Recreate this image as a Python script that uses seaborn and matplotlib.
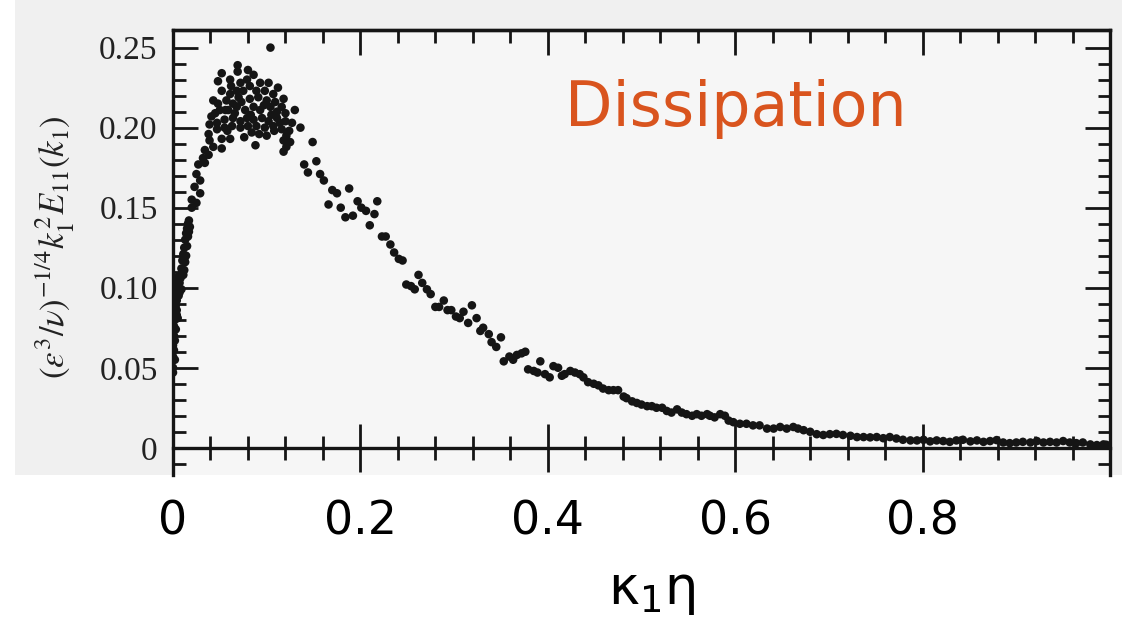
import numpy as np
import pandas as pd
import matplotlib
matplotlib.use("Agg")
import matplotlib.pyplot as plt
import seaborn as sns
from matplotlib.ticker import FixedLocator
from matplotlib.patches import Rectangle

# ---------------- data ----------------
rise_x = [0.000, 0.000, 0.000, 0.000, 0.001, 0.002, 0.001, 0.003, 0.004, 0.003,
          0.005, 0.007, 0.006, 0.009, 0.010, 0.011, 0.012, 0.013, 0.014, 0.015,
          0.016, 0.017, 0.001, 0.002, 0.003, 0.005, 0.004, 0.006, 0.009, 0.011,
          0.013, 0.012, 0.015, 0.014, 0.000, 0.000, 0.001, 0.003, 0.000, 0.002,
          0.001, 0.004, 0.007, 0.008, 0.010, 0.012, 0.016, 0.018, 0.017]
rise_y = [0.050, 0.057, 0.064, 0.072, 0.076, 0.080, 0.085, 0.089, 0.092, 0.097,
          0.101, 0.103, 0.107, 0.112, 0.117, 0.121, 0.125, 0.130, 0.134, 0.137,
          0.140, 0.142, 0.061, 0.067, 0.074, 0.081, 0.086, 0.095, 0.099, 0.108,
          0.116, 0.111, 0.126, 0.120, 0.069, 0.081, 0.092, 0.105, 0.047, 0.055,
          0.070, 0.083, 0.097, 0.106, 0.110, 0.118, 0.132, 0.138, 0.135]

peak_x = [0.020, 0.025, 0.020, 0.029, 0.023, 0.029, 0.025, 0.034, 0.027, 0.038,
          0.032, 0.034, 0.043, 0.052, 0.039, 0.052, 0.061, 0.038, 0.047, 0.055,
          0.063, 0.072, 0.080, 0.089, 0.098, 0.107, 0.116, 0.121, 0.039, 0.047,
          0.055, 0.064, 0.072, 0.079, 0.086, 0.095, 0.102, 0.111, 0.120, 0.127,
          0.136, 0.041, 0.050, 0.059, 0.068, 0.077, 0.086, 0.093, 0.104, 0.111,
          0.120, 0.130, 0.048, 0.057, 0.064, 0.073, 0.082, 0.091, 0.100, 0.109,
          0.116, 0.043, 0.052, 0.061, 0.068, 0.075, 0.082, 0.089, 0.098, 0.107,
          0.118, 0.048, 0.061, 0.072, 0.079, 0.093, 0.102, 0.112, 0.052, 0.069,
          0.069, 0.080, 0.086, 0.088, 0.100, 0.118, 0.121, 0.118, 0.104, 0.045,
          0.058, 0.066, 0.083, 0.097, 0.108, 0.114, 0.070, 0.092, 0.076, 0.105,
          0.124, 0.125, 0.084, 0.062, 0.056]
peak_y = [0.150, 0.153, 0.155, 0.159, 0.163, 0.167, 0.171, 0.178, 0.177, 0.183,
          0.181, 0.186, 0.188, 0.187, 0.192, 0.193, 0.193, 0.196, 0.199, 0.200,
          0.201, 0.200, 0.201, 0.201, 0.200, 0.201, 0.199, 0.195, 0.202, 0.203,
          0.205, 0.206, 0.204, 0.206, 0.205, 0.206, 0.204, 0.206, 0.204, 0.203,
          0.200, 0.207, 0.211, 0.211, 0.213, 0.211, 0.213, 0.211, 0.213, 0.210,
          0.209, 0.211, 0.215, 0.217, 0.215, 0.216, 0.218, 0.219, 0.217, 0.216,
          0.213, 0.217, 0.223, 0.221, 0.223, 0.223, 0.226, 0.223, 0.223, 0.221,
          0.218, 0.229, 0.230, 0.228, 0.230, 0.228, 0.228, 0.225, 0.234, 0.239,
          0.235, 0.236, 0.233, 0.189, 0.195, 0.192, 0.188, 0.185, 0.250, 0.209,
          0.198, 0.209, 0.208, 0.214, 0.198, 0.203, 0.219, 0.196, 0.194, 0.208,
          0.198, 0.191, 0.197, 0.226, 0.211]

fall_x = [0.149, 0.140, 0.153, 0.144, 0.157, 0.161, 0.170, 0.175, 0.188, 0.166,
          0.179, 0.197, 0.201, 0.206, 0.218, 0.215, 0.192, 0.184, 0.210, 0.223,
          0.227, 0.232, 0.236, 0.241, 0.245, 0.262, 0.266, 0.249, 0.254, 0.258,
          0.271, 0.275, 0.289, 0.280, 0.284, 0.293, 0.297, 0.310, 0.319, 0.302,
          0.306, 0.315, 0.324, 0.328, 0.331, 0.337, 0.340, 0.345, 0.350, 0.353,
          0.359, 0.363, 0.367, 0.372, 0.376, 0.392, 0.379, 0.385, 0.389, 0.397,
          0.402, 0.406, 0.411, 0.415, 0.418, 0.424, 0.429, 0.434, 0.438, 0.443,
          0.449, 0.454, 0.459, 0.465, 0.470, 0.475, 0.481, 0.484, 0.490, 0.495,
          0.500, 0.506, 0.511, 0.516, 0.522, 0.527, 0.532, 0.538, 0.543, 0.548,
          0.554, 0.559, 0.564, 0.570]
fall_y = [0.191, 0.177, 0.179, 0.172, 0.171, 0.167, 0.161, 0.159, 0.162, 0.152,
          0.150, 0.154, 0.150, 0.148, 0.154, 0.146, 0.145, 0.144, 0.139, 0.132,
          0.132, 0.127, 0.122, 0.118, 0.117, 0.108, 0.103, 0.102, 0.101, 0.099,
          0.099, 0.096, 0.092, 0.088, 0.088, 0.086, 0.086, 0.085, 0.089, 0.082,
          0.081, 0.078, 0.081, 0.073, 0.075, 0.071, 0.066, 0.063, 0.069, 0.054,
          0.057, 0.055, 0.058, 0.059, 0.060, 0.054, 0.049, 0.048, 0.047, 0.046,
          0.044, 0.051, 0.050, 0.045, 0.046, 0.048, 0.047, 0.046, 0.044, 0.041,
          0.040, 0.039, 0.037, 0.036, 0.036, 0.036, 0.032, 0.031, 0.029, 0.028,
          0.027, 0.026, 0.026, 0.025, 0.025, 0.023, 0.022, 0.024, 0.022, 0.021,
          0.020, 0.021, 0.020, 0.021]

tail_x = [0.573, 0.578, 0.584, 0.589, 0.593, 0.598, 0.605, 0.612, 0.619, 0.626,
          0.634, 0.641, 0.648, 0.655, 0.662, 0.667, 0.673, 0.680, 0.687, 0.694,
          0.701, 0.708, 0.715, 0.723, 0.730, 0.737, 0.744, 0.751, 0.758, 0.765,
          0.772, 0.779, 0.787, 0.794, 0.801, 0.808, 0.815, 0.822, 0.829, 0.836,
          0.843, 0.851, 0.858, 0.865, 0.872, 0.879, 0.886, 0.893, 0.900, 0.907,
          0.915, 0.922, 0.929, 0.936, 0.943, 0.950, 0.957, 0.964, 0.971, 0.979,
          0.986, 0.993, 0.996]
tail_y = [0.0200, 0.0190, 0.0210, 0.0200, 0.0170, 0.0160, 0.0150, 0.0150, 0.0140, 0.0140,
          0.0120, 0.0120, 0.0130, 0.0120, 0.0130, 0.0120, 0.0110, 0.0100, 0.0085, 0.0080,
          0.0085, 0.0087, 0.0080, 0.0075, 0.0067, 0.0067, 0.0065, 0.0067, 0.0060, 0.0067,
          0.0058, 0.0050, 0.0046, 0.0046, 0.0050, 0.0040, 0.0046, 0.0042, 0.0037, 0.0046,
          0.0050, 0.0040, 0.0046, 0.0037, 0.0042, 0.0048, 0.0033, 0.0029, 0.0033, 0.0037,
          0.0033, 0.0042, 0.0033, 0.0037, 0.0033, 0.0042, 0.0033, 0.0029, 0.0033, 0.0021,
          0.0017, 0.0021, 0.0019]

y_ticks = [0.0, 0.05, 0.10, 0.15, 0.20, 0.25]
y_tick_labels = ["0", "0.05", "0.10", "0.15", "0.20", "0.25"]
x_ticks = [0.0, 0.2, 0.4, 0.6, 0.8]
x_tick_labels = ["0", "0.2", "0.4", "0.6", "0.8"]
x_minor = [0.04, 0.08, 0.12, 0.16, 0.24, 0.28, 0.32, 0.36, 0.44, 0.48, 0.52, 0.56,
           0.64, 0.68, 0.72, 0.76, 0.84, 0.88, 0.92, 0.96]

df = pd.DataFrame({
    "k": np.concatenate([rise_x, peak_x, fall_x, tail_x]),
    "E": np.concatenate([rise_y, peak_y, fall_y, tail_y]),
})

# ---------------- style ----------------
sns.set_style("ticks")
plt.rcParams["font.family"] = ["DejaVu Sans"]
plt.rcParams["mathtext.fontset"] = "stix"

W, H = 1122, 621
fig = plt.figure(figsize=(W / 100, H / 100), dpi=100)
fig.patch.set_facecolor("white")

# scanned-paper background
fig.add_artist(Rectangle((15 / W, 1 - 475 / H), 1 - 15 / W, 475 / H,
                         transform=fig.transFigure, facecolor="#f0f0f0",
                         edgecolor="none", zorder=-10))

ax = fig.add_axes([173 / W, 1 - 475 / H, (1110 - 173) / W, 445 / H])
ax.set_facecolor("#f6f6f6")

sns.scatterplot(data=df, x="k", y="E", ax=ax, s=38, color="#151515",
                edgecolor="none", linewidth=0, legend=False, zorder=3)

ax.set_xlim(0, 1.0)
ax.set_ylim(-0.017, 0.261)
ax.set_xlabel("")
ax.set_ylabel("")

spine_c = "#151515"
for s in ["left", "right", "top", "bottom"]:
    ax.spines[s].set_visible(True)
    ax.spines[s].set_linewidth(2.4)
    ax.spines[s].set_color(spine_c)
ax.spines["bottom"].set_position(("data", 0))

# y axis ticks (inward, both sides)
ax.set_yticks(y_ticks, y_tick_labels)
ax.yaxis.set_minor_locator(FixedLocator([-0.01] + [i / 100 for i in range(1, 26) if i % 5]))
ax.tick_params(axis="y", which="both", direction="in", left=True, right=True,
               width=2.0, color=spine_c)
ax.tick_params(axis="y", which="major", length=18, labelsize=24, pad=11,
               labelcolor="#222222")
ax.tick_params(axis="y", which="minor", length=9)
for lab in ax.get_yticklabels():
    lab.set_fontfamily("Liberation Serif")

# x axis at y = 0, ticks crossing the line
ax.set_xticks(x_ticks, x_tick_labels)
ax.xaxis.set_minor_locator(FixedLocator(x_minor))
ax.tick_params(axis="x", which="both", direction="inout", bottom=True, top=False,
               width=2.0, color=spine_c)
ax.tick_params(axis="x", which="major", length=34, labelsize=33, pad=20,
               labelcolor="black")
ax.tick_params(axis="x", which="minor", length=17)

# top ticks pointing inward
sec = ax.secondary_xaxis("top")
sec.set_xticks(x_ticks[1:])
sec.xaxis.set_minor_locator(FixedLocator(x_minor))
sec.tick_params(axis="x", which="both", direction="in", width=2.0, color=spine_c,
                labeltop=False)
sec.tick_params(axis="x", which="major", length=18)
sec.tick_params(axis="x", which="minor", length=9)
sec.spines["top"].set_linewidth(2.4)
sec.spines["top"].set_color(spine_c)

# labels
fig.text(55 / W, 1 - 247 / H, r"$(\varepsilon^3/\nu)^{-1/4}k_1^2E_{11}(k_1)$",
         rotation=90, fontsize=25, ha="center", va="center", color="#222222")
fig.text(652 / W, 1 - 604 / H, r"κ$_1$η", fontsize=38, ha="center", va="baseline",
         math_fontfamily="dejavusans", color="black")
fig.text(565 / W, 1 - 126 / H, "Dissipation", fontsize=44.5, color="#D9541E",
         ha="left", va="baseline", family="DejaVu Sans")

fig.savefig("out.png", dpi=100, facecolor=fig.get_facecolor())
